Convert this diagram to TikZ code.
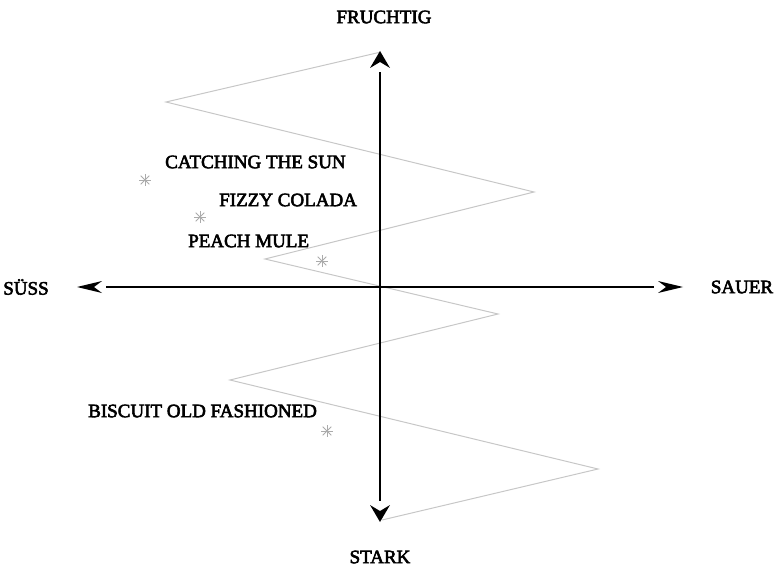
\documentclass[tikz,border=0pt]{standalone}
\usepackage{fontspec}
\setmainfont{Liberation Serif}
\newfontfamily\lblfont[FakeBold=3]{Liberation Serif}
\usetikzlibrary{calc}
\tikzset{
  vline/.style={line width=2.6pt},
  hline/.style={line width=1.5pt},
  tipfill/.style={fill=black},
  zig/.style={draw=black!22, line width=1pt},
  lbl/.style={font=\lblfont\fontsize{19}{19}\selectfont, inner sep=0pt, text=black},
  drink/.style={lbl, anchor=west},
  star/.style={draw=black!33, line width=0.9pt}
}
\newcommand{\astk}[1]{%
  \draw[star] ($(#1)+(0,-6)$) -- ($(#1)+(0,6)$);
  \draw[star] ($(#1)+(-6,0)$) -- ($(#1)+(6,0)$);
  \draw[star] ($(#1)+(-4.3,-4.3)$) -- ($(#1)+(4.3,4.3)$);
  \draw[star] ($(#1)+(-4.3,4.3)$) -- ($(#1)+(4.3,-4.3)$);}
\begin{document}
\begin{tikzpicture}[x=1pt,y=-1pt]
\useasboundingbox (0,0) rectangle (775,569);
% zigzag
\coordinate (z0) at (381,52);
\coordinate (z1) at (166,102);
\coordinate (z2) at (534,192);
\coordinate (z3) at (265,259);
\coordinate (z4) at (498,314);
\coordinate (z5) at (230,380);
\coordinate (z6) at (598,469);
\coordinate (z7) at (382,520);
\draw[zig] (z0) -- (z1) -- (z2) -- (z3) -- (z4) -- (z5) -- (z6) -- (z7);
% axes
\coordinate (top) at (380,51);
\coordinate (bot) at (380,522);
\coordinate (lft) at (77,287);
\coordinate (rgt) at (683,287);
\coordinate (o) at (380,287);
\draw[vline, shorten >=21pt] (o) -- (top);
\draw[vline, shorten >=21pt] (o) -- (bot);
\draw[hline, shorten >=29pt] (o) -- (lft);
\draw[hline, shorten >=29pt] (o) -- (rgt);
% arrow heads
\fill[tipfill] (top) -- ++(-10,17) -- ++(10,-6) -- ++(10,6) -- cycle;
\fill[tipfill] (bot) -- ++(-10,-17) -- ++(10,6) -- ++(10,-6) -- cycle;
\fill[tipfill] (lft) -- ++(25,-6) -- ++(-8,6) -- ++(8,6) -- cycle;
\fill[tipfill] (rgt) -- ++(-25,-6) -- ++(8,6) -- ++(-8,6) -- cycle;
% axis labels
\node[lbl] (fr) at (384,17) {FRUCHTIG};
\node[lbl] (st) at (380,557) {STARK};
\node[lbl] (su) at (26,287) {SÜSS};
\node[lbl] (sa) at (742,287) {SAUER};
% drinks
\node[drink] (d1) at (165,162) {CATCHING THE SUN};
\node[drink] (d2) at (219,200) {FIZZY COLADA};
\node[drink] (d3) at (188,241) {PEACH MULE};
\node[drink] (d4) at (88,411) {BISCUIT OLD FASHIONED};
% asterisks
\coordinate (a1) at (145,180);
\coordinate (a2) at (200,217);
\coordinate (a3) at (322,261);
\coordinate (a4) at (327,431);
\astk{a1}\astk{a2}\astk{a3}\astk{a4}
\end{tikzpicture}
\end{document}
